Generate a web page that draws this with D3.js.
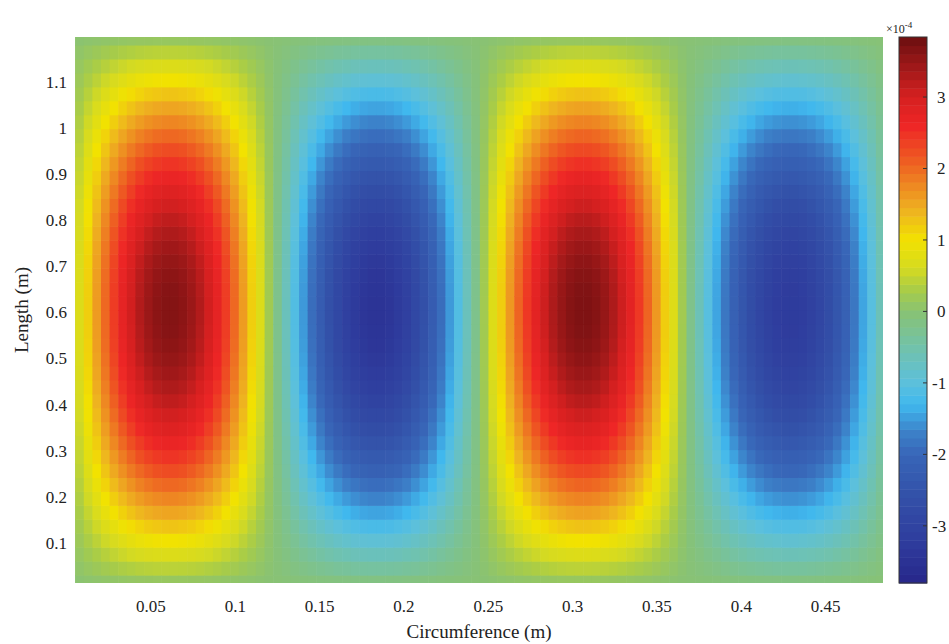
<!DOCTYPE html>
<html lang="en">
<head>
<meta charset="utf-8">
<title>Mode shape</title>
<script src="https://cdn.jsdelivr.net/npm/d3@7"></script>
<style>
    body { margin: 0; background: #fff; }
    text { font-family: "Liberation Serif", "Times New Roman", serif; fill: #222; }
</style>
</head>
<body>
<script>
    // peak value of each lobe along the circumference (x 1e-4)
    var lobeAmp = [3.65, -3.45, 3.7, -3.25];
    var lobeWidth = 0.1225;   // metres per lobe
    // relative profile across one lobe (circumference direction)
    var circShape = [0.065, 0.195, 0.321, 0.442, 0.556, 0.659, 0.752, 0.831, 0.897, 0.947, 0.981, 0.998,
                     0.998, 0.981, 0.947, 0.897, 0.831, 0.752, 0.659, 0.556, 0.442, 0.321, 0.195, 0.065];
    // relative profile along the length
    var lenSpan = [0, 1.21];
    var lenShape = [0.039, 0.118, 0.195, 0.271, 0.346, 0.419, 0.489, 0.556, 0.619, 0.679,
                    0.734, 0.785, 0.831, 0.872, 0.908, 0.938, 0.962, 0.981, 0.993, 0.999,
                    0.999, 0.993, 0.981, 0.962, 0.938, 0.908, 0.872, 0.831, 0.785, 0.734,
                    0.679, 0.619, 0.556, 0.489, 0.419, 0.346, 0.271, 0.195, 0.118, 0.039];

    var xTicks = [0.05, 0.1, 0.15, 0.2, 0.25, 0.3, 0.35, 0.4, 0.45];
    var yTicks = [0.1, 0.2, 0.3, 0.4, 0.5, 0.6, 0.7, 0.8, 0.9, 1, 1.1];
    var cbTicks = [-3, -2, -1, 0, 1, 2, 3];

    // colour map (value x 1e-4 -> colour)
    var cmapStops  = [-3.8, -3.2, -2.6, -2.0, -1.7, -1.3, -1.0, -0.5, 0, 0.3, 0.6, 1.0, 1.4, 1.8, 2.2, 2.6, 3.0, 3.35, 3.84];
    var cmapColors = ["#27278a", "#2f3d9e", "#3350a8", "#3866b8", "#3c80c8", "#40b8ee", "#5cc0dc", "#72c2aa", "#88c274",
                      "#a8cc48", "#d4da22", "#f2e200", "#eeb420", "#ee8422", "#ee5222", "#ee2626", "#d62020", "#a81a1a", "#6c0f10"];

    var width = 949, height = 644;
    var pLeft = 75, pRight = 883, pTop = 37, pBottom = 583;

    var svg = d3.select("body").append("svg")
        .attr("width", width)
        .attr("height", height);

    var x = d3.scaleLinear().domain([0.005, 0.484]).range([pLeft, pRight]);
    var y = d3.scaleLinear().domain([0.013, 1.197]).range([pBottom, pTop]);
    var color = d3.scaleLinear().domain(cmapStops).range(cmapColors).interpolate(d3.interpolateRgb).clamp(true);

    svg.append("clipPath").attr("id", "plotclip")
        .append("rect")
        .attr("x", pLeft).attr("y", pTop)
        .attr("width", pRight - pLeft).attr("height", pBottom - pTop);

    // build the cells
    var cells = [];
    var cw = lobeWidth / circShape.length;
    var rh = (lenSpan[1] - lenSpan[0]) / lenShape.length;
    lobeAmp.forEach(function(a, k){
        circShape.forEach(function(c, i){
            lenShape.forEach(function(l, j){
                var x0 = k * lobeWidth + i * cw;
                var y0 = lenSpan[0] + j * rh;
                cells.push({x0: x0, x1: x0 + cw, y0: y0, y1: y0 + rh, v: a * c * l});
            });
        });
    });

    svg.append("g")
        .attr("clip-path", "url(#plotclip)")
        .selectAll("rect")
        .data(cells)
        .enter().append("rect")
        .attr("x", function(d){ return x(d.x0); })
        .attr("y", function(d){ return y(d.y1); })
        .attr("width", function(d){ return x(d.x1) - x(d.x0) + 0.6; })
        .attr("height", function(d){ return y(d.y0) - y(d.y1) + 0.6; })
        .attr("fill", function(d){ return color(d.v); });

    // tick labels
    svg.append("g").selectAll("text")
        .data(xTicks).enter().append("text")
        .attr("x", function(d){ return x(d); })
        .attr("y", 612)
        .attr("text-anchor", "middle")
        .style("font-size", "17px")
        .text(function(d){ return d; });

    svg.append("g").selectAll("text")
        .data(yTicks).enter().append("text")
        .attr("x", 67)
        .attr("y", function(d){ return y(d) + 6; })
        .attr("text-anchor", "end")
        .style("font-size", "17px")
        .text(function(d){ return d; });

    svg.append("text")
        .attr("x", 479).attr("y", 638)
        .attr("text-anchor", "middle")
        .style("font-size", "19px")
        .text("Circumference (m)");

    svg.append("text")
        .attr("transform", "translate(28,310) rotate(-90)")
        .attr("text-anchor", "middle")
        .style("font-size", "19px")
        .text("Length (m)");

    // colour bar
    var cbLeft = 899, cbRight = 927;
    var cb = d3.scaleLinear().domain([-3.8, 3.84]).range([pBottom, pTop]);
    var nSteps = 64;
    var steps = d3.range(nSteps);
    var stepH = (3.84 + 3.8) / nSteps;
    svg.append("g").selectAll("rect")
        .data(steps).enter().append("rect")
        .attr("x", cbLeft)
        .attr("y", function(d){ return cb(-3.8 + (d + 1) * stepH); })
        .attr("width", cbRight - cbLeft)
        .attr("height", function(d){ return cb(-3.8 + d * stepH) - cb(-3.8 + (d + 1) * stepH) + 0.5; })
        .attr("fill", function(d){ return color(-3.8 + (d + 0.5) * stepH); });

    svg.append("rect")
        .attr("x", cbLeft).attr("y", pTop)
        .attr("width", cbRight - cbLeft).attr("height", pBottom - pTop)
        .attr("fill", "none")
        .attr("stroke", "#333")
        .attr("stroke-width", 1);

    svg.append("g").selectAll("line")
        .data(cbTicks).enter().append("line")
        .attr("x1", cbRight - 4).attr("x2", cbRight)
        .attr("y1", function(d){ return cb(d); })
        .attr("y2", function(d){ return cb(d); })
        .attr("stroke", "#333");

    svg.append("g").selectAll("text")
        .data(cbTicks).enter().append("text")
        .attr("x", function(d){ return d < 0 ? 932 : 937; })
        .attr("y", function(d){ return cb(d) + 6; })
        .style("font-size", "17px")
        .text(function(d){ return d < 0 ? "-" + Math.abs(d) : d; });

    var expo = svg.append("text")
        .attr("x", 886).attr("y", 33)
        .style("font-size", "12px");
    expo.append("tspan").text("\u00d710");
    expo.append("tspan").attr("dy", -5).style("font-size", "9px").text("-4");
</script>
</body>
</html>
